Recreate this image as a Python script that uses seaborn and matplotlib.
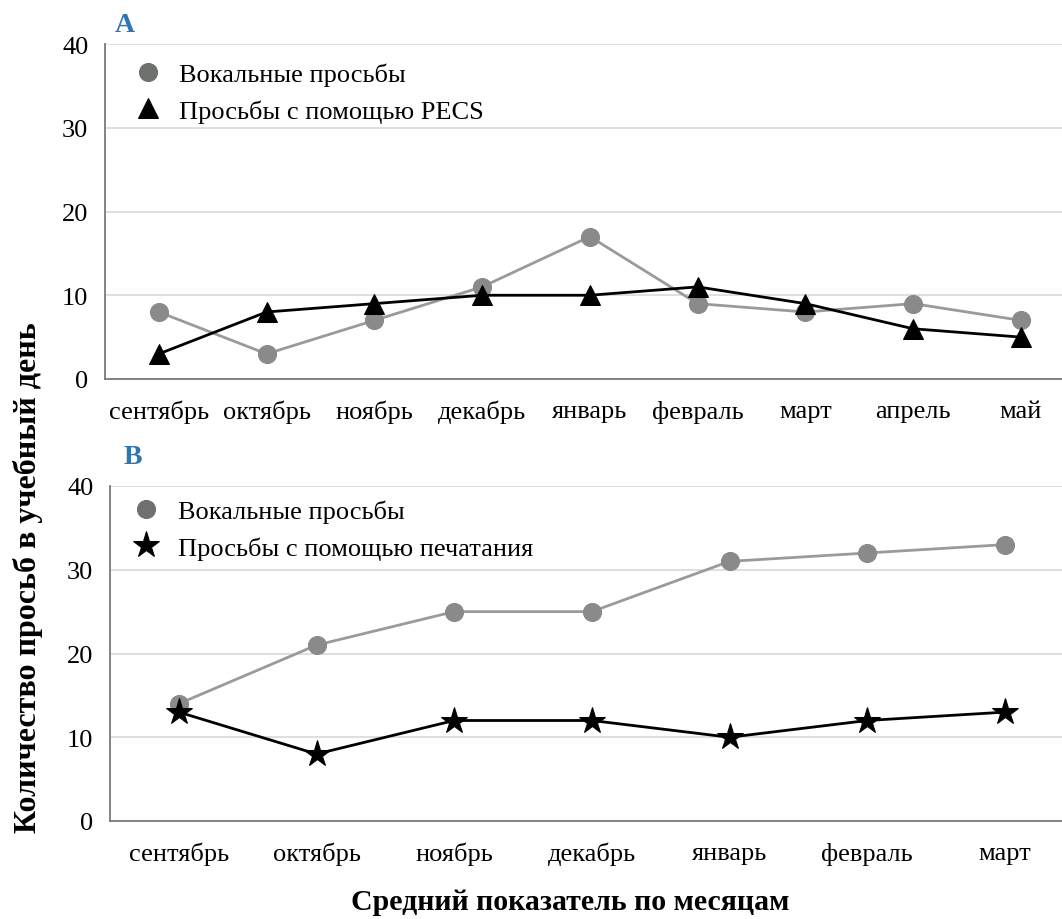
import matplotlib
matplotlib.use("Agg")
import matplotlib.pyplot as plt
import seaborn as sns
import numpy as np
import pandas as pd

sns.set_style("white")
plt.rcParams['font.family'] = ['Liberation Serif', 'DejaVu Serif']
plt.rcParams['text.color'] = 'black'
plt.rcParams['xtick.color'] = 'black'
plt.rcParams['ytick.color'] = 'black'

months_a = ["сентябрь", "октябрь", "ноябрь", "декабрь", "январь", "февраль", "март", "апрель", "май"]
vocal_a = [8, 3, 7, 11, 17, 9, 8, 9, 7]
pecs_a = [3, 8, 9, 10, 10, 11, 9, 6, 5]

months_b = ["сентябрь", "октябрь", "ноябрь", "декабрь", "январь", "февраль", "март"]
vocal_b = [14, 21, 25, 25, 31, 32, 33]
typing_b = [13, 8, 12, 12, 10, 12, 13]

label_vocal = "Вокальные просьбы"
label_pecs = "Просьбы с помощью PECS"
label_typing = "Просьбы с помощью печатания"
yticks = [0, 10, 20, 30, 40]

gray_line = "#9a9a9a"
gray_mark = "#8a8a8a"
legend_gray = "#6e706e"

fig = plt.figure(figsize=(10.62, 9.2), dpi=100)
axA = fig.add_axes([105/1062, 1-380/920, 1-105/1062, 335/920])
axB = fig.add_axes([110/1062, 1-822/920, 1-110/1062, 335/920])

FS = 19

def style(ax, months):
    n = len(months)
    ax.set_ylim(0, 40)
    ax.set_yticks(yticks)
    ax.set_xticks(range(n))
    ax.set_xticklabels(months, fontsize=FS)
    ax.tick_params(axis='y', labelsize=FS, length=0, pad=12, labelcolor="black")
    ax.tick_params(axis='x', length=0, pad=15, labelcolor="black")
    ax.grid(axis='y', color="#d9d9d9", linewidth=1.2)
    ax.set_axisbelow(True)
    for s in ["top", "right"]:
        ax.spines[s].set_visible(False)
    for s in ["left", "bottom"]:
        ax.spines[s].set_color("#7a7a7a")
        ax.spines[s].set_linewidth(1.3)
    ax.set_xlabel("")
    ax.set_ylabel("")

# Panel A
xa = np.arange(len(months_a))
sns.lineplot(x=xa, y=vocal_a, ax=axA, color=gray_line, linewidth=2, marker="o",
             markersize=13, markerfacecolor=gray_mark, markeredgecolor=gray_mark, label=label_vocal)
sns.lineplot(x=xa, y=pecs_a, ax=axA, color="black", linewidth=2, marker="^",
             markersize=14, markerfacecolor="black", markeredgecolor="black", label=label_pecs)
style(axA, months_a)
spacing_px = (1020 - 158) / 8
axA.set_xlim(-0.5, -0.5 + (1062 - 105) / spacing_px)

# Panel B
xb = np.arange(len(months_b))
sns.lineplot(x=xb, y=vocal_b, ax=axB, color=gray_line, linewidth=2, marker="o",
             markersize=13, markerfacecolor=gray_mark, markeredgecolor=gray_mark, label=label_vocal)
sns.lineplot(x=xb, y=typing_b, ax=axB, color="black", linewidth=2, marker="*",
             markersize=20, markerfacecolor="black", markeredgecolor="black", label=label_typing)
style(axB, months_b)
spacing_b = (1006 - 180) / 6
axB.set_xlim(-0.5, -0.5 + (1062 - 110) / spacing_b)

for ax, anchor in ((axA, (0.017, 1.0)), (axB, (0.01, 1.015))):
    leg = ax.legend(loc="upper left", frameon=False, fontsize=FS, handlelength=0.6,
                    handletextpad=0.9, labelspacing=0.5, borderaxespad=0.3,
                    bbox_to_anchor=anchor)
    for t in leg.get_texts():
        t.set_color("black")
    for h in leg.legend_handles:
        h.set_linestyle("")
    leg.legend_handles[0].set_markerfacecolor(legend_gray)
    leg.legend_handles[0].set_markeredgecolor(legend_gray)

fig.text(125/1062, 1-25/920, "A", color="#2e75b6", fontsize=20, fontweight="bold", va="center", ha="center")
fig.text(133/1062, 1-458/920, "B", color="#2e75b6", fontsize=20, fontweight="bold", va="center", ha="center")
fig.text(28/1062, 1-578/920, "Количество просьб в учебный день", rotation=90, fontsize=23,
         fontweight="bold", va="center", ha="center", color="black")
fig.text(570/1062, 1-903/920, "Средний показатель по месяцам", fontsize=21.5,
         fontweight="bold", va="center", ha="center", color="black")

fig.savefig("out.png", dpi=100)
